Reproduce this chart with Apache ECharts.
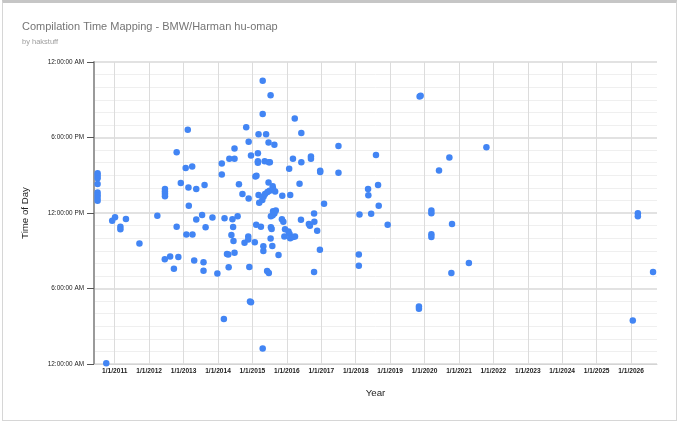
<!DOCTYPE html>
<html><head><meta charset="utf-8">
<script src="https://cdn.jsdelivr.net/npm/echarts@6/dist/echarts.min.js"></script>
<style>
html,body{margin:0;padding:0;background:#fff;}
#c{position:absolute;left:0;top:0;width:680px;height:421px;}
#frame{position:absolute;left:2px;top:0;width:673px;height:417px;border:1px solid #d6d6d6;border-top:3px solid #c6c6c6;pointer-events:none;}
</style></head><body>
<div id="c"></div><div id="frame"></div>
<script>
const titleText = 'Compilation Time Mapping - BMW/Harman hu-omap';
const subtitleText = 'by hakstuff';
const xAxisName = 'Year';
const yAxisName = 'Time of Day';
const xMin = '2010-05-26';
const xMax = '2026-10-03';
const yearTicks = [2011,2012,2013,2014,2015,2016,2017,2018,2019,2020,2021,2022,2023,2024,2025,2026];
const yTickLabels = ['12:00:00 AM','6:00:00 AM','12:00:00 PM','6:00:00 PM','12:00:00 AM'];

const dates = [
'2010-07-03','2010-07-03','2010-07-03','2010-07-03','2010-07-03','2010-07-03','2010-07-03','2010-07-03',
'2010-10-03','2010-12-05','2011-01-04','2011-03-02','2011-03-02','2011-04-30','2011-09-20','2012-03-28',
'2012-06-17','2012-06-17','2012-06-17','2012-06-17','2012-06-15','2012-08-11','2012-09-20','2012-11-06',
'2012-10-19','2012-10-19','2012-12-02','2013-01-23','2013-01-30','2013-02-14','2013-02-21','2013-02-25',
'2013-04-02','2013-04-05','2013-04-23','2013-05-15','2013-05-15','2013-07-16','2013-07-31','2013-07-31',
'2013-08-11','2013-08-22','2013-11-03','2013-12-25','2014-02-10','2014-02-10','2014-03-04','2014-03-11',
'2014-04-06','2014-04-20','2014-04-24','2014-05-01','2014-05-23','2014-06-03','2014-06-10','2014-06-14',
'2014-06-25','2014-06-25','2014-06-25','2014-07-28','2014-08-11','2014-09-17','2014-10-09','2014-10-27',
'2014-11-18','2014-11-18','2014-11-22','2014-11-22','2014-11-29','2014-12-06','2014-12-17','2014-12-17',
'2015-01-26','2015-02-02','2015-02-13','2015-02-10','2015-02-28','2015-02-28','2015-02-28','2015-03-07',
'2015-03-07','2015-03-14','2015-04-16','2015-04-01','2015-04-20','2015-04-20','2015-04-27','2015-04-27',
'2015-04-20','2015-04-30','2015-05-15','2015-05-11','2015-05-26','2015-06-06','2015-06-24','2015-06-10',
'2015-06-21','2015-06-21','2015-06-24','2015-07-05','2015-07-02','2015-07-13','2015-07-13','2015-07-16',
'2015-07-24','2015-07-16','2015-07-31','2015-08-04','2015-08-08','2015-08-08','2015-09-06','2015-08-04',
'2015-08-22','2015-08-30','2015-08-22','2015-10-05','2015-11-14','2015-11-10','2015-11-25','2015-12-13',
'2015-12-06','2016-01-19','2016-01-30','2016-01-26','2016-02-06','2016-02-06','2016-03-06','2016-03-28',
'2016-03-06','2016-03-25','2016-05-15','2016-05-30','2016-06-03','2016-06-03','2016-08-22','2016-09-02',
'2016-09-13','2016-09-13','2016-10-16','2016-10-19','2016-10-16','2016-11-18','2016-12-17','2016-12-20',
'2016-12-20','2017-01-30','2017-07-02','2017-07-02','2018-02-03','2018-02-03','2018-02-10','2018-05-12',
'2018-05-15','2018-06-14','2018-08-04','2018-08-26','2018-09-02','2018-12-06','2019-11-03','2019-11-03',
'2019-11-10','2019-11-21','2020-03-14','2020-03-14','2020-03-14','2020-03-14','2020-06-03','2020-09-21',
'2020-10-19','2020-10-12','2021-04-16','2021-10-19','2026-01-19','2026-03-14','2026-03-14','2026-08-22'
];
const times = [
'15:10','14:58','14:46','14:18','13:38','13:25','13:12','12:59',
'00:03','11:23','11:40','10:54','10:43','11:31','09:35','11:47',
'13:54','13:43','13:32','13:20','08:19','08:32','07:34','08:30',
'16:50','10:55','14:23','15:35','10:18','18:37','14:02','12:34',
'15:42','10:18','08:13','13:54','11:29','11:50','08:05','07:25',
'14:14','10:52','11:38','07:11','15:56','15:04','03:34','11:35',
'08:45','08:42','07:41','16:19','10:15','11:30','10:53','09:47',
'17:08','16:19','08:50','11:44','14:17','13:31','09:38','18:49',
'10:08','09:54','17:40','13:09','07:43','04:58','04:55','16:34',
'09:40','14:54','14:58','11:04','16:45','16:07','16:00','18:16',
'13:26','12:49','13:02','10:55','22:31','19:52','09:21','08:59',
'01:14','13:19','13:31','16:07','18:16','07:24','07:14','13:40',
'14:26','17:36','16:02','16:02','13:46','21:22','09:59','10:52',
'10:44','11:44','09:23','14:07','13:56','12:08','12:12','11:49',
'11:58','13:43','17:25','08:40','13:22','11:30','11:18','10:42',
'10:08','10:32','10:20','15:31','13:26','10:00','10:05','10:08',
'16:19','19:31','14:19','11:28','18:21','16:02','11:07','10:59',
'16:29','16:19','11:58','11:18','07:19','10:35','09:05','15:21',
'15:15','12:44','17:19','15:12','08:42','07:49','11:53','13:54',
'13:25','11:56','16:36','14:13','12:34','11:04','04:34','04:24',
'21:16','21:19','12:12','11:59','10:19','10:05','15:23','16:25',
'11:07','07:14','08:01','17:13','03:27','11:59','11:45','07:19'
];

function toTs(s){ const p = s.split('-').map(Number); return Date.UTC(p[0], p[1]-1, p[2]); }
function toHours(s){ const p = s.split(':').map(Number); return p[0] + p[1]/60; }

const points = dates.map((d,i) => [toTs(d), toHours(times[i])]);
const yearTs = yearTicks.map(y => Date.UTC(y,0,1));
const FONT = '"Liberation Sans", Arial, sans-serif';

const chart = echarts.init(document.getElementById('c'), null, {renderer:'canvas'});
chart.setOption({
  backgroundColor: '#fff',
  animation: false,
  title: [
    {text: titleText, left: 22, top: 21, padding: 0, textStyle: {fontFamily: FONT, fontSize: 11, fontWeight: 'normal', color: '#757575'}},
    {text: subtitleText, left: 22, top: 38, padding: 0, textStyle: {fontFamily: FONT, fontSize: 7.5, fontWeight: 'normal', color: '#9e9e9e'}}
  ],
  grid: {left: 94, right: 23, top: 62, bottom: 57},
  xAxis: {
    type: 'value',
    min: toTs(xMin), max: toTs(xMax),
    name: xAxisName, nameLocation: 'middle', nameGap: 24,
    nameTextStyle: {fontFamily: FONT, fontSize: 9.7, color: '#222'},
    axisLine: {show: true, lineStyle: {color: '#d4d4d4', width: 1}},
    axisTick: {show: false, customValues: yearTs},
    axisLabel: {customValues: yearTs, fontFamily: FONT, fontSize: 6.6, color: '#222', fontWeight: 'bold', margin: 4,
      formatter: v => { const d = new Date(v); return (d.getUTCMonth()+1) + '/' + d.getUTCDate() + '/' + d.getUTCFullYear(); }},
    splitLine: {show: true, lineStyle: {color: '#dcdcdc', width: 1}}
  },
  yAxis: {
    type: 'value', min: 0, max: 24, interval: 6,
    name: yAxisName, nameLocation: 'middle', nameGap: 64, nameRotate: 90,
    nameTextStyle: {fontFamily: FONT, fontSize: 9.7, color: '#222'},
    axisLine: {show: true, lineStyle: {color: '#9a9a9a', width: 2}},
    axisTick: {show: true, length: 7, lineStyle: {color: '#555', width: 1}},
    axisLabel: {fontFamily: FONT, fontSize: 6.4, color: '#222', margin: 10,
      formatter: v => yTickLabels[Math.round(v/6)]},
    splitLine: {show: true, lineStyle: {color: '#e2e2e2', width: 2}},
    minorTick: {show: false, splitNumber: 6},
    minorSplitLine: {show: true, lineStyle: {color: '#efefef', width: 1}}
  },
  series: [{
    type: 'scatter',
    data: points,
    symbolSize: 6.5,
    itemStyle: {color: '#4285f4', opacity: 1},
    z: 5
  }]
});
</script>
</body></html>
